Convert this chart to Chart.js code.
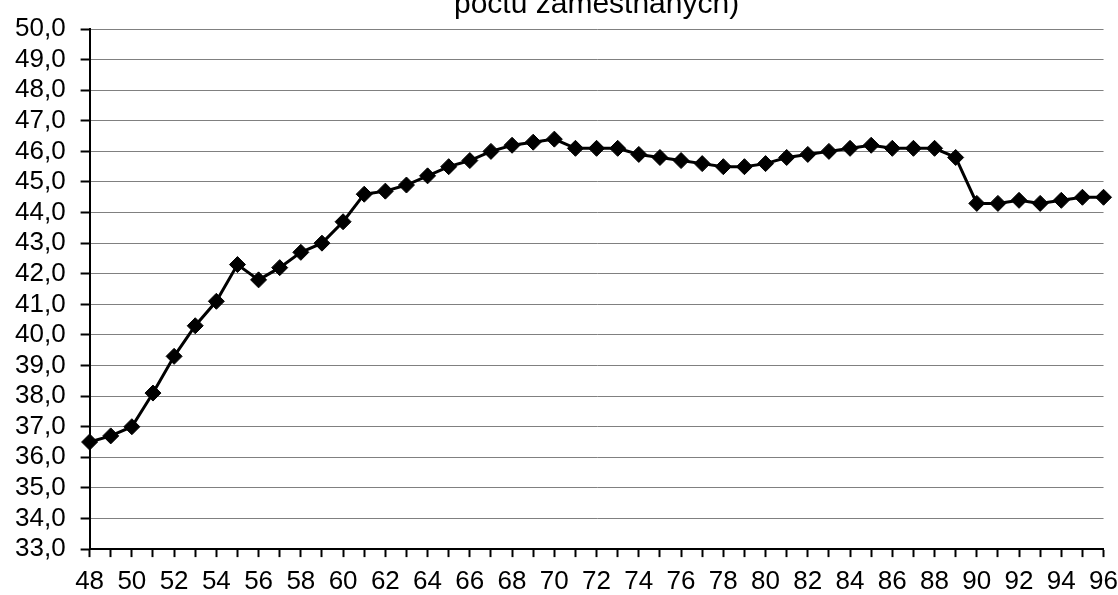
<!DOCTYPE html>
<html>
<head>
<meta charset="utf-8">
<script src="https://cdn.jsdelivr.net/npm/chart.js@4/dist/chart.umd.min.js"></script>
<style>
  html, body { margin: 0; padding: 0; background: #fff; overflow: hidden; width: 1118px; height: 595px; }
  #wrap { position: absolute; left: 0; top: -13px; width: 1128px; height: 620px; }
</style>
</head>
<body>
<div id="wrap"><canvas id="c"></canvas></div>
<script>
const titleText = "počtu zaměstnaných)";
const years = [48,49,50,51,52,53,54,55,56,57,58,59,60,61,62,63,64,65,66,67,68,69,70,71,72,73,74,75,76,77,78,79,80,81,82,83,84,85,86,87,88,89,90,91,92,93,94,95,96];
const values = [36.5,36.7,37.0,38.1,39.3,40.3,41.1,42.3,41.8,42.2,42.7,43.0,43.7,44.6,44.7,44.9,45.2,45.5,45.7,46.0,46.2,46.3,46.4,46.1,46.1,46.1,45.9,45.8,45.7,45.6,45.5,45.5,45.6,45.8,45.9,46.0,46.1,46.2,46.1,46.1,46.1,45.8,44.3,44.3,44.4,44.3,44.4,44.5,44.5];
const yMin = 33, yMax = 50, yStep = 1;

const font = { family: "'Liberation Sans', Arial, sans-serif", size: 26, lineHeight: 1.15 };

new Chart(document.getElementById('c'), {
  type: 'line',
  data: {
    labels: years.map(String),
    datasets: [{
      data: values,
      borderColor: '#000',
      backgroundColor: '#000',
      borderWidth: 3,
      tension: 0,
      pointStyle: 'rectRot',
      pointRadius: 8,
      pointHoverRadius: 8,
      pointBackgroundColor: '#000',
      pointBorderColor: '#000',
      pointBorderWidth: 1
    }]
  },
  options: {
    responsive: true,
    maintainAspectRatio: false,
    animation: false,
    layout: { padding: { left: 0, right: 0, top: 0, bottom: 0 } },
    plugins: {
      legend: { display: false },
      tooltip: { enabled: false },
      title: {
        display: true,
        fullSize: false,
        text: titleText,
        color: '#000',
        font: { family: font.family, size: 30, weight: 'normal' },
        padding: { top: 0, bottom: 6 }
      }
    },
    scales: {
      x: {
        type: 'category',
        offset: false,
        grid: { display: true, drawOnChartArea: false, drawTicks: true, tickLength: 8, tickColor: '#000', tickWidth: 2 },
        border: { display: true, color: '#000', width: 2 },
        ticks: {
          color: '#000', font: font, autoSkip: false, maxRotation: 0, padding: 10,
          callback: function(v, i) { return (years[i] % 2 === 0) ? String(years[i]) : ''; }
        }
      },
      y: {
        min: yMin, max: yMax,
        grid: { color: '#808080', lineWidth: 1, drawTicks: true, tickLength: 9, tickColor: '#000', tickWidth: 2 },
        border: { display: true, color: '#000', width: 2 },
        ticks: {
          stepSize: yStep, color: '#000', font: font, padding: 15, autoSkip: false,
          callback: function(v) { return v.toFixed(1).replace('.', ','); }
        }
      }
    }
  }
});
</script>
</body>
</html>
